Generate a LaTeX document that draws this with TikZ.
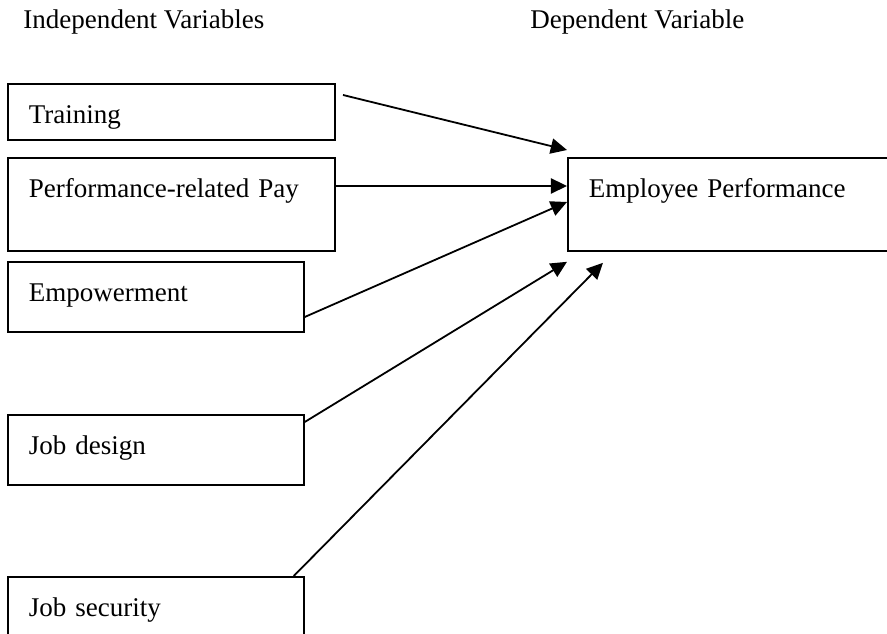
\documentclass[tikz,border=0pt]{standalone}
\usepackage{fontspec}
\setmainfont{Liberation Serif}
\usetikzlibrary{arrows.meta,calc}

\begin{document}
\begin{tikzpicture}
[x=0.444pt,y=-0.444pt,
every node/.style={inner sep=0pt,font=\fontsize{12}{14}\selectfont},
var/.style={draw=black,line width=.8pt,anchor=north west,align=left,inner xsep=9.3pt,inner ysep=0pt,text height=17.8pt},
arr/.style={line width=.8pt,-{Triangle[length=7.2pt,width=6.8pt]}}]
\useasboundingbox (0,0) rectangle (887,634);
\clip (0,0) rectangle (887,634);
\node[anchor=base west] (indep) at (23,29) {Independent Variables};
\node[anchor=base west] (dep) at (530,29) {Dependent Variable};

\node[var,text width=126.5pt,text depth=7.1pt] (train) at (7,83) {Training};
\node[var,text width=126.5pt,text depth=23.5pt] (pay) at (7,157) {Performance-related Pay};
\node[var,text width=112.8pt,text depth=13.3pt] (empower) at (7,261) {Empowerment};
\node[var,text width=112.8pt,text depth=13.3pt] (design) at (7,414) {Job design};
\node[var,text width=112.8pt,text depth=13.3pt] (security) at (7,576) {Job security};
\node[var,text width=132pt,text depth=23.5pt] (perf) at (567,157) {Employee Performance};

\coordinate (t0) at (343,95);
\draw[arr] (t0) -- ($(perf.north west)+(0,-7)$);
\draw[arr] ($(pay.north east)+(0,29)$) -- ($(perf.north west)+(0,29)$);
\draw[arr] ($(empower.north east)+(0,56)$) -- ($(perf.north west)+(0,45)$);
\draw[arr] ($(design.north east)+(0,8)$) -- ($(perf.south west)+(0,10)$);
\draw[arr] ($(security.north east)+(-11,0)$) -- ($(perf.south west)+(36,11)$);
\end{tikzpicture}
\end{document}
